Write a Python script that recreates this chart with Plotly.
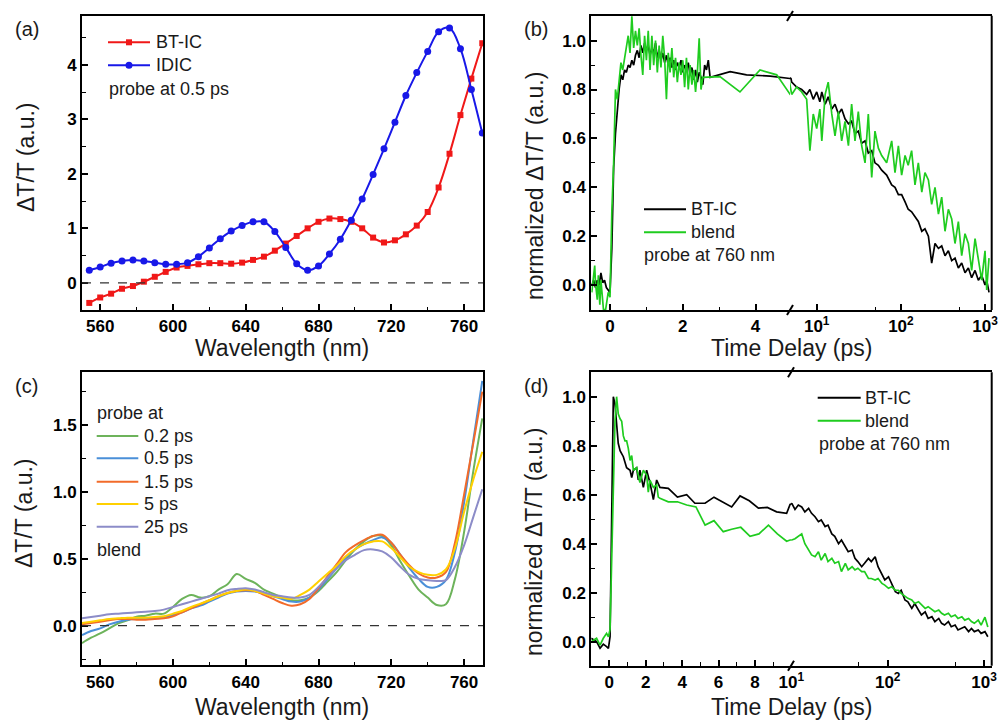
import plotly.graph_objects as go

# ---------------- data ----------------
# (a) probe at 0.5 ps
a_wl = [554, 560, 566, 572, 578, 584, 590, 596, 602, 608, 614, 620, 626, 632, 638, 644, 650,
        656, 662, 668, 674, 680, 686, 692, 698, 704, 710, 716, 722, 728, 734, 740, 746, 752,
        758, 764, 770]
a_btic = [-0.37, -0.27, -0.20, -0.11, -0.06, 0.02, 0.11, 0.20, 0.28, 0.31, 0.34, 0.36, 0.36,
          0.35, 0.37, 0.42, 0.48, 0.59, 0.72, 0.86, 1.00, 1.12, 1.18, 1.17, 1.12, 1.00, 0.83,
          0.74, 0.78, 0.89, 1.05, 1.30, 1.75, 2.37, 3.08, 3.75, 4.40]
a_idic = [0.23, 0.29, 0.36, 0.40, 0.42, 0.40, 0.37, 0.34, 0.34, 0.37, 0.48, 0.64, 0.81, 0.95,
          1.05, 1.12, 1.12, 0.94, 0.65, 0.35, 0.23, 0.31, 0.53, 0.80, 1.15, 1.54, 1.99, 2.46,
          2.95, 3.44, 3.86, 4.25, 4.61, 4.68, 4.30, 3.55, 2.75]

# (b) kinetics probe at 760 nm
b_bt_t = [-0.50, -0.45, -0.40, -0.35, -0.30, -0.25, -0.20, -0.15, -0.10, -0.05, 0.00, 0.05,
          0.10, 0.15, 0.20, 0.25, 0.30, 0.35, 0.40, 0.45, 0.50, 0.55, 0.60, 0.65, 0.70, 0.75,
          0.80, 0.85, 0.90, 0.95, 1.00, 1.05, 1.10, 1.15, 1.20, 1.25, 1.30, 1.35, 1.40, 1.45,
          1.50, 1.55, 1.60, 1.65, 1.70, 1.75, 1.80, 1.85, 1.90, 1.95, 2.00, 2.05, 2.10, 2.15,
          2.20, 2.25, 2.30, 2.35, 2.40, 2.45, 2.50, 2.55, 2.60, 2.65, 2.70, 2.75, 3.30, 3.75,
          4.40, 4.95,
          5.05, 5.78, 6.63, 7.6, 8.3, 9.1, 10.0, 10.9, 11.5, 12.6, 13.7, 15.1, 16.5, 18.1, 19.8,
          21.7, 23.8, 26.0, 28.5, 31.2, 34.2, 37.5, 41.0, 45.0, 49.2, 54.0, 59.1, 67.7, 77.7,
          85.1, 93.3, 102, 112, 122, 134, 147, 161, 177, 193, 212, 232, 254, 279, 305, 334,
          366, 401, 439, 481, 527, 577, 632, 692, 759, 831, 910, 997, 1044, 1112]
b_bt_v = [0.00, 0.02, -0.01, 0.02, 0.00, 0.05, 0.01, 0.02, -0.01, -0.02, -0.03, 0.15,
          0.48, 0.62, 0.72, 0.80, 0.86, 0.84, 0.88, 0.87, 0.90, 0.89, 0.92, 0.90, 0.94, 0.96,
          0.93, 0.98, 0.95, 0.99, 0.96, 0.98, 0.94, 0.97, 0.95, 0.99, 0.93, 0.96, 0.92, 0.95,
          0.91, 0.94, 0.90, 0.93, 0.89, 0.92, 0.88, 0.91, 0.89, 0.92, 0.87, 0.90, 0.88, 0.91,
          0.86, 0.89, 0.84, 0.88, 0.83, 0.87, 0.85, 0.82, 0.90, 0.88, 0.92, 0.85, 0.873, 0.86,
          0.855, 0.845,
          0.83, 0.81, 0.80, 0.78, 0.80, 0.76, 0.79, 0.75, 0.79, 0.74, 0.77, 0.72, 0.74, 0.70,
          0.72, 0.68, 0.66, 0.67, 0.62, 0.63, 0.58, 0.59, 0.54, 0.55, 0.50, 0.49, 0.47, 0.45,
          0.41, 0.40, 0.37, 0.37, 0.34, 0.31, 0.30, 0.28, 0.26, 0.22, 0.23, 0.20, 0.09, 0.17,
          0.15, 0.16, 0.12, 0.14, 0.10, 0.11, 0.07, 0.09, 0.05, 0.07, 0.03, 0.06, 0.02, 0.04,
          0.00, 0.02, -0.03]
b_bl_t = [-0.50, -0.45, -0.42, -0.40, -0.35, -0.32, -0.28, -0.25, -0.22, -0.18, -0.12, -0.05,
          0.00, 0.05, 0.10, 0.15, 0.20, 0.25, 0.30, 0.35, 0.40, 0.45, 0.50, 0.55, 0.60, 0.65,
          0.70, 0.75, 0.80, 0.85, 0.90, 0.95, 1.00, 1.05, 1.10, 1.15, 1.20, 1.25, 1.30, 1.35,
          1.40, 1.45, 1.50, 1.55, 1.60, 1.65, 1.70, 1.75, 1.80, 1.85, 1.90, 1.95, 2.00, 2.05,
          2.10, 2.15, 2.20, 2.25, 2.30, 2.35, 2.40, 2.45, 2.50, 2.55, 3.02, 3.57, 4.12, 4.58,
          4.95,
          5.05, 5.78, 6.63, 7.6, 8.3, 9.1, 10.0, 10.9, 11.5, 12.6, 13.7, 15.1, 16.5, 18.1, 19.8,
          21.7, 23.8, 26.0, 28.5, 31.2, 34.2, 37.5, 41.0, 45.0, 49.2, 54.0, 59.1, 67.7, 77.7,
          85.1, 93.3, 102, 112, 122, 134, 147, 161, 177, 193, 212, 232, 254, 279, 305, 334,
          366, 401, 439, 481, 527, 577, 632, 692, 759, 831, 910, 997, 1044, 1112]
b_bl_v = [-0.03, 0.06, 0.08, 0.01, -0.06, 0.04, -0.08, 0.02, -0.05, -0.10, -0.10, -0.03,
          -0.05, 0.30, 0.50, 0.80, 0.76, 0.85, 0.91, 0.88, 0.93, 0.97, 1.02, 0.95, 1.10, 0.97,
          1.04, 0.98, 1.05, 0.94, 0.86, 1.02, 0.92, 1.04, 0.88, 1.02, 0.90, 1.00, 0.87, 0.98,
          0.89, 1.02, 0.93, 0.76, 0.95, 0.87, 0.97, 0.85, 0.93, 0.83, 0.91, 0.86, 0.92, 0.81,
          0.93, 0.80, 0.90, 0.82, 0.88, 0.79, 0.87, 1.01, 0.80, 0.85, 0.853, 0.79, 0.88, 0.86,
          0.78,
          0.78, 0.81, 0.79, 0.76, 0.55, 0.70, 0.64, 0.72, 0.59, 0.78, 0.83, 0.70, 0.61, 0.71,
          0.59, 0.67, 0.57, 0.74, 0.59, 0.71, 0.57, 0.50, 0.70, 0.44, 0.63, 0.56, 0.53, 0.50,
          0.59, 0.46, 0.57, 0.45, 0.53, 0.49, 0.55, 0.41, 0.50, 0.38, 0.46, 0.43, 0.33, 0.40,
          0.29, 0.36, 0.22, 0.31, 0.27, 0.17, 0.26, 0.12, 0.21, 0.17, 0.06, 0.19, 0.10, 0.02,
          0.14, -0.02, 0.11]

# (d) kinetics probe at 760 nm
d_bt_t = [-1.0, -0.88, -0.70, -0.51, -0.33, -0.15, -0.05, 0.04, 0.13, 0.22, 0.31, 0.40, 0.49,
          0.59, 0.77, 0.95, 1.14, 1.23, 1.32, 1.50, 1.59, 1.68, 1.87, 2.05, 2.23, 2.42, 2.60,
          2.78, 3.24, 3.74, 4.25, 4.70, 5.26, 5.75, 6.26, 6.72, 7.18, 7.69, 8.19, 8.68, 9.19,
          9.74, 9.93]
d_bt_v = [0.014, 0.007, 0.0, -0.027, -0.01, -0.02, -0.027, 0.02, 0.43, 1.0, 0.97, 0.88, 0.81,
          0.78, 0.755, 0.71, 0.70, 0.67, 0.70, 0.71, 0.66, 0.70, 0.63, 0.70, 0.65, 0.58, 0.66,
          0.63, 0.626, 0.59, 0.60, 0.565, 0.565, 0.59, 0.57, 0.55, 0.595, 0.575, 0.545, 0.548,
          0.53, 0.524, 0.56]
d_bl_t = [-1.0, -0.88, -0.70, -0.51, -0.33, -0.15, -0.05, 0.04, 0.18, 0.31, 0.40, 0.49, 0.59,
          0.68, 0.77, 0.86, 0.95, 1.04, 1.14, 1.23, 1.32, 1.50, 1.68, 1.87, 2.05, 2.14, 2.23,
          2.42, 2.60, 2.69, 2.78, 3.24, 3.74, 4.25, 4.76, 5.26, 5.75, 6.26, 6.72, 7.22, 7.73,
          8.22, 8.74, 9.23, 9.74, 9.93]
d_bl_v = [0.0, 0.007, 0.014, -0.014, 0.014, 0.034, 0.02, 0.05, 0.56, 0.90, 1.0, 0.93, 0.91,
          0.90, 0.84, 0.82, 0.82, 0.79, 0.74, 0.76, 0.70, 0.71, 0.65, 0.70, 0.68, 0.61, 0.66,
          0.63, 0.64, 0.59, 0.585, 0.571, 0.571, 0.558, 0.55, 0.476, 0.494, 0.449, 0.459,
          0.467, 0.43, 0.44, 0.476, 0.44, 0.41, 0.415]
d_t_log = [10.1, 10.9, 11.8, 12.8, 13.8, 15.1, 16.2, 17.6, 19.1, 20.4, 22.4, 24.0, 26.3, 28.2,
           30.9, 33.1, 36.3, 38.9, 42.7, 45.7, 49.0, 53.7, 57.5, 63.1, 67.6, 74.1, 79.4, 87.1,
           93.3, 102, 110, 120, 129, 138, 151, 162, 178, 191, 209, 224, 245, 263, 288, 309,
           339, 363, 389, 427, 457, 501, 537, 589, 631, 692, 741, 794, 871, 933, 1023, 1096]
d_bt_log = [0.565, 0.54, 0.558, 0.55, 0.53, 0.544, 0.524, 0.51, 0.49, 0.497, 0.47, 0.476,
            0.44, 0.43, 0.40, 0.415, 0.39, 0.367, 0.374, 0.34, 0.327, 0.306, 0.32, 0.34, 0.327,
            0.347, 0.306, 0.272, 0.252, 0.265, 0.238, 0.204, 0.197, 0.21, 0.17, 0.163, 0.136,
            0.156, 0.129, 0.109, 0.122, 0.095, 0.102, 0.082, 0.095, 0.075, 0.068, 0.082, 0.061,
            0.068, 0.048, 0.054, 0.061, 0.041, 0.054, 0.041, 0.048, 0.034, 0.041, 0.02]
d_bl_log = [0.415, 0.42, 0.43, 0.44, 0.40, 0.374, 0.354, 0.347, 0.367, 0.333, 0.36, 0.327,
            0.34, 0.32, 0.327, 0.286, 0.32, 0.293, 0.306, 0.293, 0.30, 0.286, 0.286, 0.258,
            0.258, 0.252, 0.258, 0.238, 0.231, 0.218, 0.224, 0.21, 0.21, 0.197, 0.184, 0.177,
            0.17, 0.156, 0.163, 0.15, 0.136, 0.143, 0.129, 0.122, 0.129, 0.116, 0.109, 0.116,
            0.102, 0.109, 0.095, 0.102, 0.088, 0.095, 0.082, 0.075, 0.088, 0.068, 0.10, 0.06]

# (c) blend spectra
c_wl = [550, 555, 560, 565, 570, 575, 580, 585, 590, 595, 600, 605, 610, 615, 620, 625, 630,
        635, 640, 645, 650, 655, 660, 665, 670, 675, 680, 685, 690, 695, 700, 705, 710, 715,
        720, 725, 730, 735, 740, 745, 750, 755, 760, 765, 770]
c_02 = [-0.13, -0.09, -0.057, -0.02, 0.017, 0.04, 0.067, 0.075, 0.09, 0.09, 0.14, 0.20, 0.23,
        0.21, 0.22, 0.27, 0.31, 0.386, 0.35, 0.32, 0.27, 0.24, 0.21, 0.19, 0.19, 0.21, 0.26,
        0.33, 0.40, 0.49, 0.57, 0.63, 0.67, 0.67, 0.60, 0.48, 0.37, 0.27, 0.21, 0.155, 0.16,
        0.35, 0.70, 1.15, 1.55]
c_05 = [-0.07, -0.04, -0.02, 0.01, 0.03, 0.045, 0.05, 0.05, 0.055, 0.06, 0.08, 0.10, 0.13,
        0.15, 0.18, 0.21, 0.24, 0.255, 0.26, 0.255, 0.24, 0.22, 0.20, 0.18, 0.18, 0.21, 0.27,
        0.35, 0.43, 0.51, 0.57, 0.61, 0.64, 0.66, 0.62, 0.53, 0.43, 0.35, 0.29, 0.29, 0.34,
        0.55, 0.92, 1.38, 1.83]
c_15 = [0.01, 0.02, 0.03, 0.04, 0.05, 0.05, 0.045, 0.045, 0.05, 0.055, 0.07, 0.10, 0.13, 0.16,
        0.19, 0.22, 0.245, 0.26, 0.265, 0.26, 0.23, 0.20, 0.17, 0.15, 0.16, 0.20, 0.28, 0.37,
        0.46, 0.55, 0.60, 0.64, 0.67, 0.68, 0.62, 0.53, 0.45, 0.39, 0.36, 0.36, 0.40, 0.62,
        0.98, 1.36, 1.75]
c_5 = [0.02, 0.03, 0.04, 0.05, 0.055, 0.06, 0.06, 0.06, 0.065, 0.07, 0.09, 0.11, 0.14, 0.165,
       0.19, 0.22, 0.245, 0.26, 0.27, 0.26, 0.24, 0.22, 0.21, 0.20, 0.23, 0.27, 0.33, 0.39,
       0.45, 0.52, 0.57, 0.61, 0.63, 0.63, 0.58, 0.51, 0.44, 0.40, 0.38, 0.38, 0.42, 0.58,
       0.85, 1.09, 1.30]
c_25 = [0.055, 0.065, 0.075, 0.085, 0.09, 0.095, 0.10, 0.105, 0.11, 0.12, 0.14, 0.16, 0.18,
        0.20, 0.22, 0.24, 0.265, 0.275, 0.28, 0.27, 0.25, 0.23, 0.22, 0.21, 0.21, 0.23, 0.29,
        0.36, 0.43, 0.49, 0.53, 0.565, 0.57, 0.555, 0.51, 0.44, 0.38, 0.35, 0.34, 0.335, 0.34,
        0.44, 0.60, 0.81, 1.02]
c_names = ["0.2 ps", "0.5 ps", "1.5 ps", "5 ps", "25 ps"]
c_colors = ["#6DB35B", "#4A8FD8", "#F26B2A", "#FFD000", "#8C8CC8"]

W, H = 999, 720
FONT = "Arial, Liberation Sans, sans-serif"


def px(x):
    return x / W


def py(y):
    return 1 - y / H


def split(t, v, brk):
    lin_t, lin_v, log_t, log_v = [], [], [], []
    n = len(t)
    for i in range(n):
        if t[i] <= brk or (i > 0 and t[i - 1] <= brk):
            lin_t.append(t[i]); lin_v.append(v[i])
        if t[i] >= brk or (i + 1 < n and t[i + 1] >= brk):
            log_t.append(t[i]); log_v.append(v[i])
    return lin_t, lin_v, log_t, log_v


fig = go.Figure()

# (a)
fig.add_trace(go.Scatter(x=a_wl, y=a_btic, mode="lines+markers", xaxis="x", yaxis="y",
                         line=dict(color="#F01818", width=2, shape="spline"),
                         marker=dict(symbol="square", size=6, color="#F01818")))
fig.add_trace(go.Scatter(x=a_wl, y=a_idic, mode="lines+markers", xaxis="x", yaxis="y",
                         line=dict(color="#1818E8", width=2, shape="spline"),
                         marker=dict(symbol="circle", size=7, color="#1818E8")))

# (b)
for tt, vv, col in [(b_bt_t, b_bt_v, "#000000"), (b_bl_t, b_bl_v, "#1FCC1F")]:
    lt, lv, gt, gv = split(tt, vv, 4.95)
    fig.add_trace(go.Scatter(x=lt, y=lv, mode="lines", xaxis="x2", yaxis="y2",
                             line=dict(color=col, width=1.7)))
    fig.add_trace(go.Scatter(x=gt, y=gv, mode="lines", xaxis="x3", yaxis="y2",
                             line=dict(color=col, width=1.7)))

# (c)
for vals, col in zip([c_02, c_05, c_15, c_5, c_25], c_colors):
    fig.add_trace(go.Scatter(x=c_wl, y=vals, mode="lines", xaxis="x4", yaxis="y3",
                             line=dict(color=col, width=2, shape="spline")))

# (d)
for tt, vv, lg, col in [(d_bt_t, d_bt_v, d_bt_log, "#000000"),
                        (d_bl_t, d_bl_v, d_bl_log, "#1FCC1F")]:
    t_all = tt + d_t_log
    v_all = vv + lg
    lt, lv, gt, gv = split(t_all, v_all, 9.98)
    fig.add_trace(go.Scatter(x=lt, y=lv, mode="lines", xaxis="x5", yaxis="y4",
                             line=dict(color=col, width=1.7)))
    fig.add_trace(go.Scatter(x=gt, y=gv, mode="lines", xaxis="x6", yaxis="y4",
                             line=dict(color=col, width=1.7)))

tickfont = dict(family=FONT, size=17, color="black", weight="bold")
LINE = dict(showline=True, linecolor="black", linewidth=2)


def xax(dom, rng, anchor, dtick=None, minor_dtick=None, log=False, tickvals=None,
        ticktext=None, minor_vals=None):
    d = dict(domain=[px(dom[0]), px(dom[1])], range=rng, anchor=anchor, side="bottom",
             showgrid=False, zeroline=False, ticks="inside", ticklen=6, tickwidth=1.6,
             tickcolor="black", tickfont=tickfont, fixedrange=True, automargin=False,
             ticklabelposition="outside", ticklabelstandoff=0, mirror=True, **LINE)
    if log:
        d["type"] = "log"
        d["tickmode"] = "array"
        d["tickvals"] = tickvals
        d["ticktext"] = ticktext
        d["minor"] = dict(tickmode="array", tickvals=minor_vals, ticks="inside", ticklen=3.5,
                          tickwidth=1.4, tickcolor="black")
    else:
        d["dtick"] = dtick
        d["tick0"] = 0
        d["minor"] = dict(dtick=minor_dtick, tick0=0, ticks="inside", ticklen=3.5,
                          tickwidth=1.4, tickcolor="black")
    return d


def yax(dom, rng, anchor, dtick, minor_dtick, fmt, mirror):
    return dict(domain=[py(dom[1]), py(dom[0])], range=rng, anchor=anchor, side="left",
                showgrid=False, zeroline=False, ticks="inside", ticklen=6, tickwidth=1.6,
                tickcolor="black", tickfont=tickfont, dtick=dtick, tick0=0, tickformat=fmt,
                minor=dict(dtick=minor_dtick, tick0=0, ticks="inside", ticklen=3.5,
                           tickwidth=1.4, tickcolor="black"), fixedrange=True,
                automargin=False, ticklabelposition="outside", mirror=mirror, **LINE)


logvals = [10, 100, 1000]
logtext = ["10<sup>1</sup>", "10<sup>2</sup>", "10<sup>3</sup>"]

fig.update_layout(
    template="none",
    width=W, height=H, margin=dict(l=0, r=0, t=0, b=0, pad=0), autosize=False,
    paper_bgcolor="white", plot_bgcolor="rgba(0,0,0,0)", showlegend=False,
    xaxis=xax((82, 483), [550, 770.4], "y", 40, 20),
    yaxis=yax((16, 310), [-0.5, 4.9], "x", 1, 0.5, "d", True),
    xaxis2=xax((591.3, 790), [-0.514, 4.945], "y2", 2, 1),
    xaxis3=xax((790, 991.7), [0.683, 3.078], "y2", log=True, tickvals=logvals,
               ticktext=logtext, minor_vals=[50, 500]),
    yaxis2=yax((15.7, 310), [-0.102, 1.102], "x2", 0.2, 0.1, ".1f", False),
    xaxis4=xax((82, 483), [550, 770.4], "y3", 40, 20),
    yaxis3=yax((372.3, 665.3), [-0.296, 1.894], "x4", 0.5, 0.25, ".1f", True),
    xaxis5=xax((591.3, 791), [-0.99, 9.98], "y4", 2, 1),
    xaxis6=xax((791, 991.7), [0.996, 3.08], "y4", log=True, tickvals=logvals,
               ticktext=logtext, minor_vals=[50, 500]),
    yaxis4=yax((372.3, 665.7), [-0.098, 1.0996], "x5", 0.2, 0.1, ".1f", False),
)

shapes = []


def pline(x0, y0, x1, y1, col="black", width=2, dash=None):
    ln = dict(color=col, width=width)
    if dash:
        ln["dash"] = dash
    shapes.append(dict(type="line", xref="paper", yref="paper", x0=px(x0), x1=px(x1),
                       y0=py(y0), y1=py(y1), line=ln))


# right edges of the broken-axis panels
pline(991.7, 15.7, 991.7, 310)
pline(991.7, 372.3, 991.7, 665.7)
# zero dashed lines
shapes.append(dict(type="line", xref="paper", yref="y", x0=px(82), x1=px(483), y0=0, y1=0,
                   line=dict(color="#333333", width=1.2, dash="dash")))
shapes.append(dict(type="line", xref="paper", yref="y3", x0=px(82), x1=px(483), y0=0, y1=0,
                   line=dict(color="#333333", width=1.2, dash="dash")))
# axis break marks
for (bx, by) in [(790, 16), (790, 310), (791, 372.3), (791, 665.7)]:
    pline(bx - 3, by + 5, bx + 3, by - 5)

# legend samples
pline(108, 42.3, 150, 42.3, "#F01818")
pline(108, 65.3, 150, 65.3, "#1818E8")
shapes.append(dict(type="rect", xref="paper", yref="paper", x0=px(126), x1=px(132),
                   y0=py(45.3), y1=py(39.3), fillcolor="#F01818", line=dict(width=0)))
shapes.append(dict(type="circle", xref="paper", yref="paper", x0=px(125.5), x1=px(132.5),
                   y0=py(68.8), y1=py(61.8), fillcolor="#1818E8", line=dict(width=0)))
pline(644, 209.3, 686, 209.3, "#000000")
pline(644, 232.3, 686, 232.3, "#1FCC1F")
for yy, col in zip([436, 458.3, 481.7, 504, 526.7], c_colors):
    pline(96.7, yy, 138.3, yy, col)
pline(817.7, 397.7, 860.7, 397.7, "#000000")
pline(817.7, 420.7, 860.7, 420.7, "#1FCC1F")

fig.update_layout(shapes=shapes)

ann = []


def text(x, y, s, size=18, xanchor="left", angle=0, color="#1a1a1a"):
    ann.append(dict(x=px(x), y=py(y), xref="paper", yref="paper", text=s, showarrow=False,
                    xanchor=xanchor, yanchor="middle", textangle=angle,
                    font=dict(family=FONT, size=size, color=color)))


# panel labels
text(26.5, 29, "(a)", 20, "center")
text(536, 29, "(b)", 20, "center")
text(26.5, 386, "(c)", 20, "center")
text(536, 386, "(d)", 20, "center")
# axis titles
text(282, 348, "Wavelength (nm)", 23, "center")
text(282, 707, "Wavelength (nm)", 23, "center")
text(791, 348, "Time Delay (ps)", 23, "center")
text(791, 707, "Time Delay (ps)", 23, "center")
text(26, 157, "ΔT/T (a.u.)", 23, "center", -90)
text(24, 513, "ΔT/T (a.u.)", 23, "center", -90)
text(535, 186, "normalized ΔT/T (a.u.)", 23, "center", -90)
text(534, 542, "normalized ΔT/T (a.u.)", 23, "center", -90)
# legends
text(154, 42.3, "BT-IC")
text(154, 65.3, "IDIC")
text(107, 89.3, "probe at 0.5 ps")
text(689, 209.3, "BT-IC")
text(689, 232.3, "blend")
text(642, 255.3, "probe at 760 nm")
text(95, 413.3, "probe at")
for yy, nm in zip([436, 458.3, 481.7, 504, 526.7], c_names):
    text(142, yy, nm)
text(95, 550, "blend")
text(863, 397.7, "BT-IC")
text(863, 420.7, "blend")
text(817, 444, "probe at 760 nm")

fig.update_layout(annotations=ann)

fig.write_html("out.html", config={"displayModeBar": False},
               post_script="document.body.style.margin='0';")
